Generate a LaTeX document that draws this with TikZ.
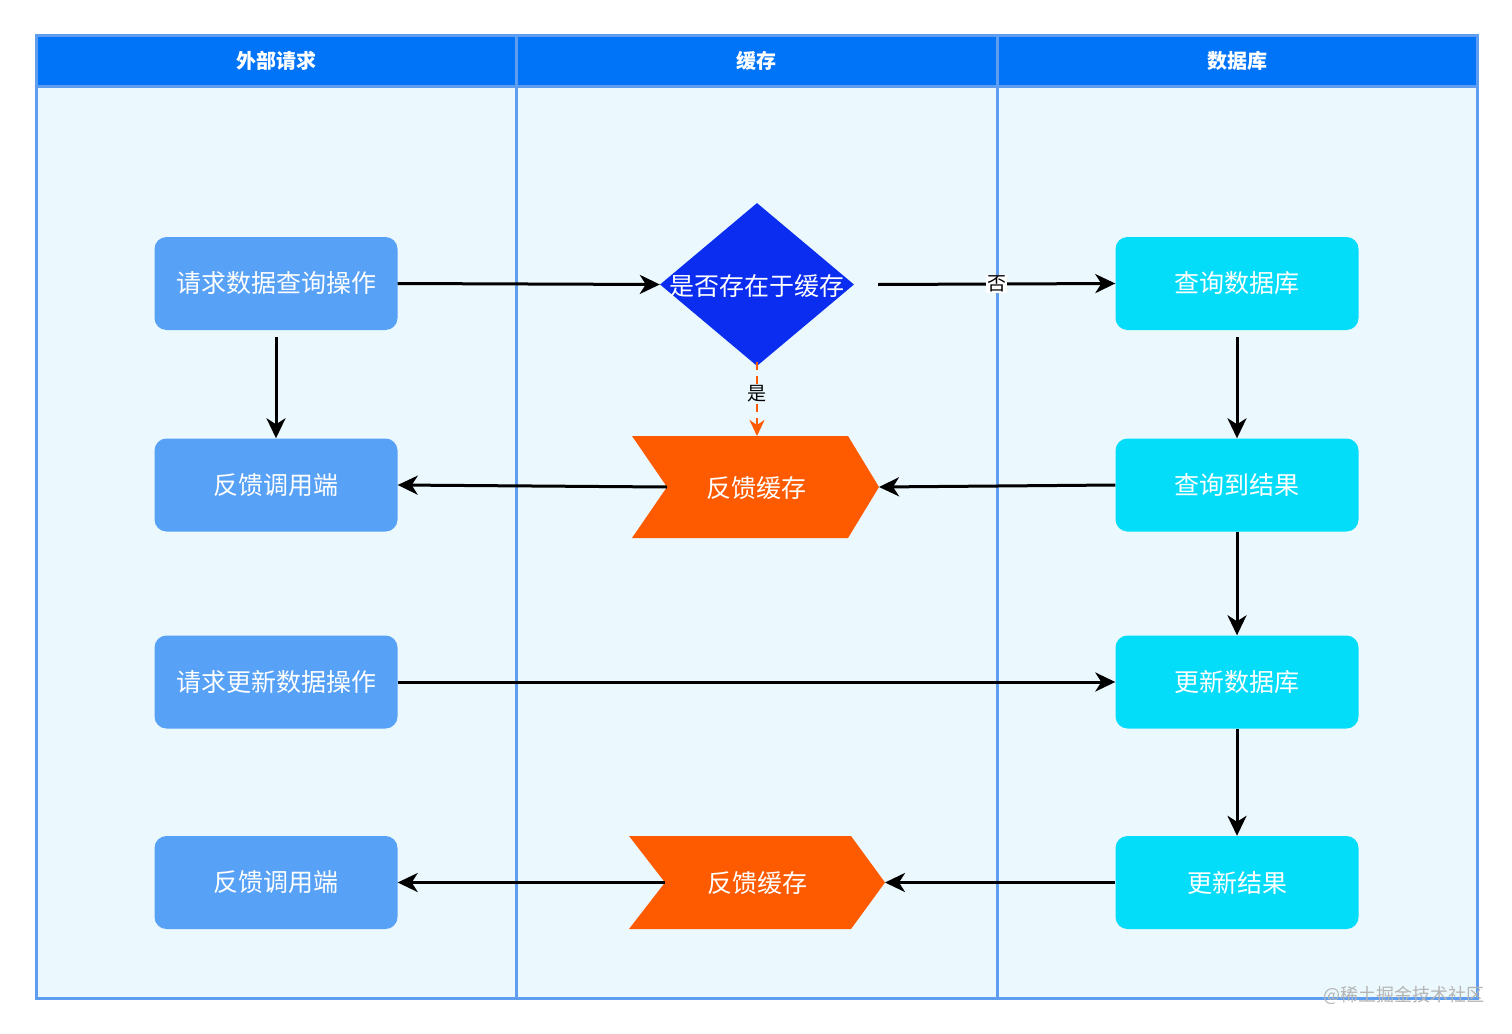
\documentclass[tikz,border=0pt]{standalone}
\usepackage{fontspec}
\newfontfamily\cjk{Noto Sans CJK SC}
\usetikzlibrary{shapes.geometric,arrows.meta}
\definecolor{hdr}{HTML}{0074F9}
\definecolor{lanebd}{HTML}{5E9DF0}
\definecolor{lanebg}{HTML}{EBF8FD}
\definecolor{lbox}{HTML}{57A1F7}
\definecolor{rbox}{HTML}{04DDFA}
\definecolor{dia}{HTML}{0A2DEF}
\definecolor{chev}{HTML}{FE5B00}
\definecolor{wmark}{HTML}{B4B4B4}
\tikzset{
  lanetitle/.style={text=white,font=\cjk\bfseries\fontsize{20}{24}\selectfont},
  boxl/.style={rectangle,rounded corners=12pt,fill=lbox,minimum width=243pt,minimum height=93pt,inner sep=0pt,text=white,font=\cjk\fontsize{25}{30}\selectfont},
  boxr/.style={boxl,fill=rbox},
  wtext/.style={text=white,font=\cjk\fontsize{25}{30}\selectfont,inner sep=0pt},
  conn/.style={line width=3pt,black,-{Stealth[length=20pt,width=19pt,inset=6pt]}},
  lbl/.style={font=\cjk\fontsize{19}{22}\selectfont,inner sep=1pt,text=black},
}
\begin{document}
\begin{tikzpicture}[x=1pt,y=-1pt]
\useasboundingbox (0,0) rectangle (1512,1033);
\fill[white] (0,0) rectangle (1512,1033);
% pool
\fill[lanebg] (36,36) rectangle (1477,998);
\fill[hdr] (36,36) rectangle (1477,86);
\draw[lanebd,line width=3pt] (36,36) rectangle (1477,998);
\draw[lanebd,line width=3pt] (36,86) -- (1477,86);
\draw[lanebd,line width=3pt] (516,36) -- (516,998);
\draw[lanebd,line width=3pt] (997,36) -- (997,998);
\node[lanetitle] (t1) at (276,61) {外部请求};
\node[lanetitle] (t2) at (756,61) {缓存};
\node[lanetitle] (t3) at (1237,61) {数据库};
% left column
\node[boxl] (a1) at (276,283.5) {请求数据查询操作};
\node[boxl] (a2) at (276,485) {反馈调用端};
\node[boxl] (a3) at (276,682) {请求更新数据操作};
\node[boxl] (a4) at (276,882.5) {反馈调用端};
% right column
\node[boxr] (c1) at (1237,283.5) {查询数据库};
\node[boxr] (c2) at (1237,485) {查询到结果};
\node[boxr] (c3) at (1237,682) {更新数据库};
\node[boxr] (c4) at (1237,882.5) {更新结果};
% diamond
\node[diamond,fill=dia,minimum width=194pt,minimum height=163pt,inner sep=0pt] (d) at (757,284.5) {};
\node[wtext] (dt) at (757,286) {是否存在于缓存};
% chevron 1
\fill[chev] (632,436) -- (848,436) -- (879,487) -- (848,538) -- (632,538) -- (667,487) -- cycle;
\coordinate (k1tip) at (879,487);
\coordinate (k1notch) at (667,487);
\coordinate (k1top) at (757,436);
\node[wtext] (k1) at (756,488) {反馈缓存};
% chevron 2
\fill[chev] (629,836) -- (851,836) -- (885,882.5) -- (851,929) -- (629,929) -- (665,882.5) -- cycle;
\coordinate (k2tip) at (885,882.5);
\coordinate (k2notch) at (665,882.5);
\node[wtext] (k2) at (757,883) {反馈缓存};
% connectors
\draw[conn] (a1.east) -- (d.west);
\draw[conn] ([xshift=24pt]d.east) -- (c1.west) node[pos=0.5,lbl,fill=white] (no) {否};
\draw[line width=2.6pt,chev,dash pattern=on 8pt off 6pt,-{Stealth[length=16pt,width=15pt,inset=5pt]}] ([yshift=4pt]d.south) -- (k1top) node[pos=0.42,lbl,fill=lanebg] (yes) {是};
\draw[conn] ([yshift=-7pt]a1.south) -- (a2.north);
\draw[conn] ([yshift=-7pt]c1.south) -- (c2.north);
\draw[conn] (c2.west) -- (k1tip);
\draw[conn] (k1notch) -- (a2.east);
\draw[conn] (c2.south) -- (c3.north);
\draw[conn] (a3.east) -- (c3.west);
\draw[conn] (c3.south) -- (c4.north);
\draw[conn] (c4.west) -- (k2tip);
\draw[conn] (k2notch) -- (a4.east);
% watermark
\node[text=wmark,font=\cjk\fontsize{18}{21}\selectfont,inner sep=0pt] (wm) at (1404,995) {@稀土掘金技术社区};
\end{tikzpicture}
\end{document}
